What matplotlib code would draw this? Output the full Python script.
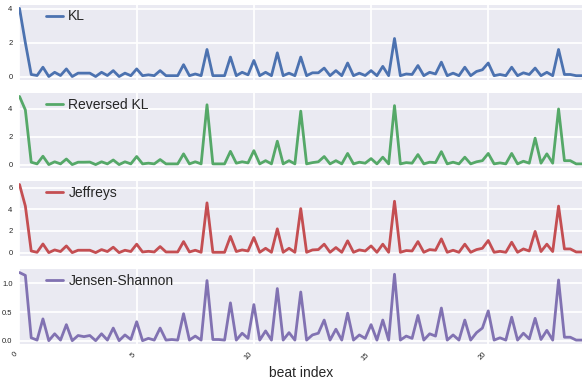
import numpy as np
import matplotlib
matplotlib.use("Agg")
import matplotlib.pyplot as plt

# divergence between consecutive beats, sampled every quarter beat
beat_index = np.arange(97) / 4.0

kl = [4.03, 2.0, 0.12, 0.06, 0.55, 0.0, 0.25, 0.06, 0.45, 0.0,
      0.2, 0.2, 0.2, 0.0, 0.25, 0.06, 0.35, 0.0, 0.2, 0.05,
      0.45, 0.05, 0.1, 0.05, 0.35, 0.05, 0.05, 0.05, 0.7, 0.05,
      0.15, 0.05, 1.6, 0.05, 0.05, 0.05, 1.15, 0.05, 0.25, 0.1,
      0.95, 0.05, 0.25, 0.05, 1.4, 0.05, 0.2, 0.05, 1.15, 0.05,
      0.22, 0.22, 0.5, 0.05, 0.35, 0.05, 0.8, 0.05, 0.2, 0.06,
      0.35, 0.05, 0.6, 0.05, 2.25, 0.05, 0.15, 0.12, 0.65, 0.05,
      0.25, 0.15, 0.85, 0.05, 0.2, 0.05, 0.55, 0.05, 0.3, 0.4,
      0.8, 0.05, 0.12, 0.05, 0.55, 0.05, 0.22, 0.12, 0.5, 0.05,
      0.25, 0.05, 1.6, 0.12, 0.12, 0.05, 0.05]

reversed_kl = [4.9, 3.93, 0.17, 0.05, 0.6, 0.0, 0.2, 0.05, 0.4, 0.0,
               0.17, 0.17, 0.18, 0.0, 0.2, 0.05, 0.33, 0.0, 0.2, 0.05,
               0.58, 0.05, 0.1, 0.05, 0.36, 0.05, 0.05, 0.05, 0.77, 0.05,
               0.2, 0.05, 4.3, 0.05, 0.05, 0.05, 0.95, 0.1, 0.2, 0.12,
               1.0, 0.05, 0.28, 0.05, 1.68, 0.05, 0.28, 0.05, 3.84, 0.05,
               0.14, 0.2, 0.58, 0.05, 0.28, 0.05, 0.8, 0.05, 0.17, 0.1,
               0.43, 0.05, 0.53, 0.05, 4.24, 0.05, 0.14, 0.1, 0.72, 0.05,
               0.17, 0.14, 0.93, 0.05, 0.17, 0.05, 0.53, 0.05, 0.2, 0.28,
               0.8, 0.05, 0.12, 0.05, 0.8, 0.05, 0.24, 0.1, 1.9, 0.1,
               0.77, 0.1, 4.0, 0.28, 0.28, 0.05, 0.05]

jeffreys = [6.3, 4.3, 0.15, 0.03, 0.8, 0.0, 0.25, 0.1, 0.62, 0.0,
            0.22, 0.22, 0.22, 0.0, 0.28, 0.1, 0.5, 0.0, 0.22, 0.1,
            0.78, 0.06, 0.12, 0.06, 0.56, 0.06, 0.06, 0.06, 1.02, 0.06,
            0.22, 0.03, 4.6, 0.03, 0.03, 0.03, 1.5, 0.1, 0.25, 0.15,
            1.4, 0.03, 0.4, 0.03, 2.2, 0.03, 0.4, 0.03, 4.07, 0.03,
            0.25, 0.28, 0.78, 0.03, 0.47, 0.03, 1.09, 0.03, 0.25, 0.15,
            0.62, 0.03, 0.78, 0.03, 4.75, 0.03, 0.19, 0.15, 1.02, 0.03,
            0.28, 0.22, 1.27, 0.03, 0.22, 0.03, 0.78, 0.03, 0.28, 0.4,
            1.12, 0.03, 0.12, 0.03, 0.96, 0.03, 0.34, 0.15, 1.96, 0.1,
            0.78, 0.1, 4.3, 0.34, 0.34, 0.06, 0.06]

jensen_shannon = [1.19, 1.14, 0.05, 0.01, 0.38, 0.0, 0.12, 0.01, 0.28, 0.0,
                  0.09, 0.07, 0.09, 0.0, 0.12, 0.01, 0.22, 0.0, 0.1, 0.02,
                  0.33, 0.0, 0.04, 0.01, 0.22, 0.01, 0.02, 0.01, 0.47, 0.01,
                  0.08, 0.01, 1.05, 0.02, 0.02, 0.01, 0.66, 0.01, 0.13, 0.04,
                  0.63, 0.01, 0.17, 0.01, 0.91, 0.01, 0.14, 0.01, 0.85, 0.01,
                  0.1, 0.13, 0.36, 0.01, 0.2, 0.01, 0.48, 0.01, 0.1, 0.04,
                  0.28, 0.01, 0.36, 0.01, 1.16, 0.01, 0.08, 0.04, 0.44, 0.01,
                  0.12, 0.08, 0.57, 0.01, 0.1, 0.01, 0.36, 0.01, 0.14, 0.22,
                  0.52, 0.01, 0.05, 0.01, 0.41, 0.01, 0.13, 0.03, 0.39, 0.02,
                  0.18, 0.01, 1.06, 0.06, 0.06, 0.01, 0.01]

series = [("KL", kl), ("Reversed KL", reversed_kl),
          ("Jeffreys", jeffreys), ("Jensen-Shannon", jensen_shannon)]
colors = ["#4C72B0", "#55A868", "#C44E52", "#8172B2"]

plt.style.use("seaborn-v0_8-darkgrid")
plt.rcParams["grid.linewidth"] = 1.3

fig, axes = plt.subplots(4, 1, sharex=True, figsize=(5.82, 3.84), dpi=100)
fig.subplots_adjust(left=0.0335, right=1.0, top=0.987, bottom=0.104, hspace=0.175)

for ax, (name, values), c in zip(axes, series, colors):
    ax.plot(beat_index, values, color=c, lw=2, label=name)
    ax.set_xlim(0, 24)
    ax.tick_params(labelsize=5.5, length=0, pad=5)
    ax.legend(loc="upper left", bbox_to_anchor=(0.03, 1.07), frameon=False,
              fontsize=10, handlelength=1.2, handletextpad=0.4, borderpad=0.2)

axes[-1].set_xticks([0, 5, 10, 15, 20])
for lab in axes[-1].get_xticklabels():
    lab.set_rotation(45)
    lab.set_ha("right")
axes[-1].set_xlabel("beat index", fontsize=10, labelpad=3)

fig.savefig("out.png", dpi=100)
